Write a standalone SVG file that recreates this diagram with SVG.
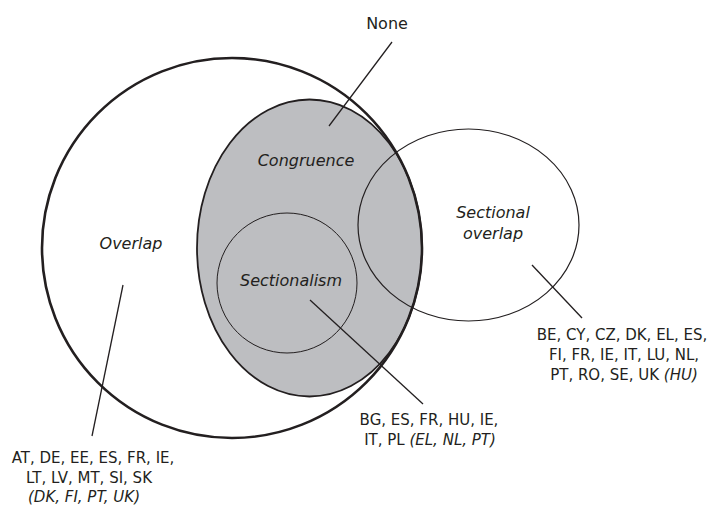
<svg xmlns="http://www.w3.org/2000/svg" width="713" height="506" viewBox="0 0 713 506">
<style>
text{font-family:"DejaVu Sans","Open Sans","Liberation Sans",sans-serif;font-size:15px;fill:#231f20;text-anchor:middle}
.lbl{font-size:16px}
.it{font-style:italic}
.lead{stroke:#231f20;stroke-width:1.3;fill:none}
</style>
<rect width="713" height="506" fill="#fff"/>
<g id="congruence">
<ellipse cx="309.5" cy="248" rx="112.5" ry="148.5" fill="#bdbec1" stroke="#231f20" stroke-width="1.8"/>
<text class="lbl it" x="306" y="166">Congruence</text>
</g>
<g id="overlap">
<circle cx="232" cy="248" r="190" fill="none" stroke="#231f20" stroke-width="2.6"/>
<text class="lbl it" x="131" y="249">Overlap</text>
</g>
<g id="sectionalism">
<circle cx="287" cy="283" r="70" fill="none" stroke="#231f20" stroke-width="1"/>
<text class="lbl it" x="291" y="286">Sectionalism</text>
</g>
<g id="sectional-overlap">
<ellipse cx="468.5" cy="225" rx="110.5" ry="96" fill="none" stroke="#231f20" stroke-width="1.2"/>
<text class="lbl it" x="493" y="218">Sectional</text>
<text class="lbl it" x="493" y="239">overlap</text>
</g>
<g id="none">
<text class="lbl" x="387" y="29">None</text>
</g>
<g id="connectors">
<line class="lead" x1="392" y1="42" x2="329" y2="126"/>
<line class="lead" x1="123" y1="285" x2="92" y2="436"/>
<line class="lead" x1="310" y1="300" x2="423" y2="404"/>
<line class="lead" x1="532" y1="265" x2="582" y2="318"/>
</g>
<g id="overlap-list">
<text x="93" y="463">AT, DE, EE, ES, FR, IE,</text>
<text x="89" y="483">LT, LV, MT, SI, SK</text>
<text class="it" x="84" y="502">(DK, FI, PT, UK)</text>
</g>
<g id="sectionalism-list">
<text x="429" y="425">BG, ES, FR, HU, IE,</text>
<text x="430" y="445">IT, PL <tspan class="it">(EL, NL, PT)</tspan></text>
</g>
<g id="sectional-overlap-list">
<text x="622" y="340">BE, CY, CZ, DK, EL, ES,</text>
<text x="624" y="360">FI, FR, IE, IT, LU, NL,</text>
<text x="624" y="380">PT, RO, SE, UK <tspan class="it">(HU)</tspan></text>
</g>
</svg>
